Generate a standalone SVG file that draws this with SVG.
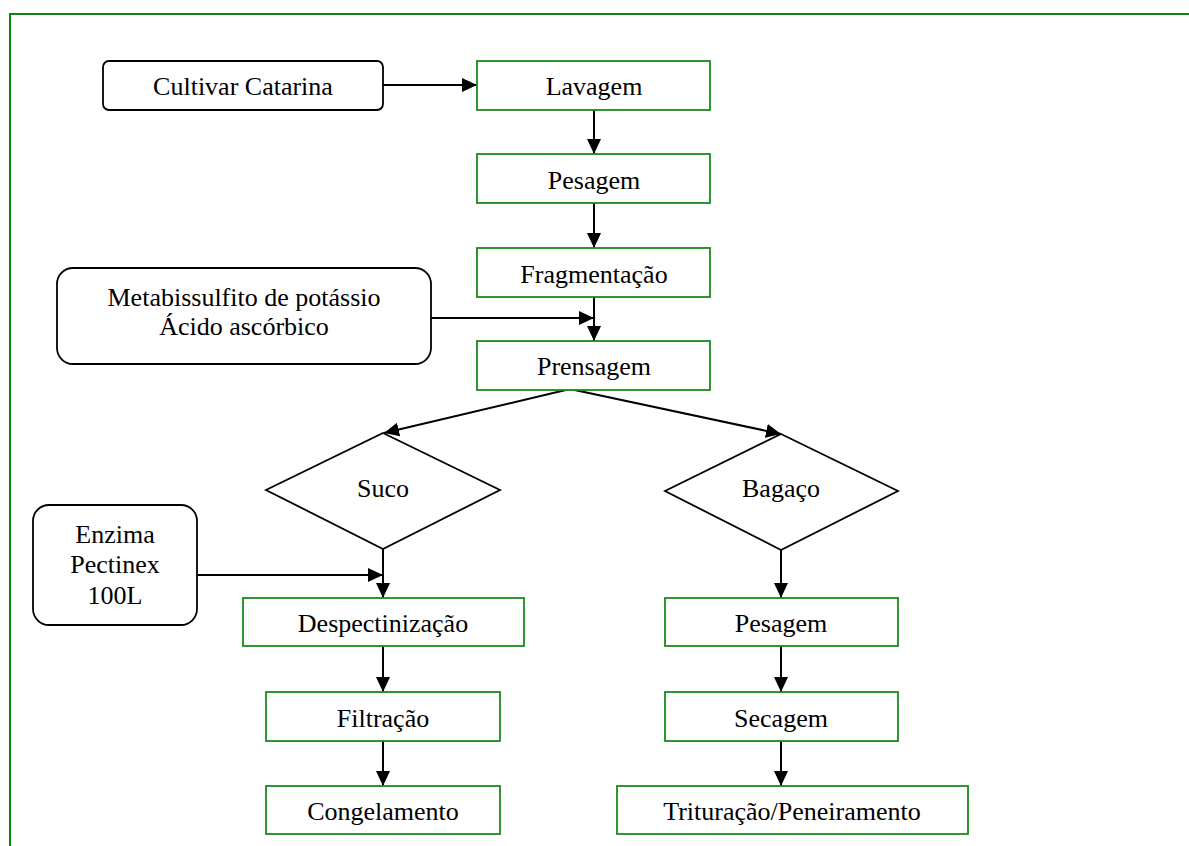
<svg xmlns="http://www.w3.org/2000/svg" width="1189" height="846" viewBox="0 0 1189 846">
<defs>
<marker id="ah" markerWidth="15" markerHeight="15" refX="15" refY="7.5" orient="auto" markerUnits="userSpaceOnUse">
<path d="M0,0.5 L15,7.5 L0,14.5 Z" fill="#000"/>
</marker>
<style>
.g{fill:#fff;stroke:#1a8a1a;stroke-width:1.8}
.b{fill:#fff;stroke:#000;stroke-width:1.8}
.t{font-family:"Liberation Serif","Times New Roman",serif;font-size:26px;fill:#000;text-anchor:middle;dominant-baseline:central}
.c{fill:none;stroke:#000;stroke-width:2;marker-end:url(#ah)}
</style>
</defs>
<rect width="1189" height="846" fill="#fff"/>
<path d="M10,846 V14 H1189" fill="none" stroke="#0a850a" stroke-width="2"/>
<g id="connectors">
<path class="c" d="M383,85 H477"/>
<path class="c" d="M594,110 V154"/>
<path class="c" d="M594,203 V248"/>
<path class="c" d="M594,296 V341"/>
<path class="c" d="M431,318 H594"/>
<path class="c" d="M570,389 L384,433"/>
<path class="c" d="M570,389 L781,434"/>
<path class="c" d="M383,549 V598"/>
<path class="c" d="M197,575 H383"/>
<path class="c" d="M383,646 V692"/>
<path class="c" d="M383,741 V786"/>
<path class="c" d="M781,550 V598"/>
<path class="c" d="M781,646 V692"/>
<path class="c" d="M781,741 V786"/>
</g>
<g id="cultivar"><rect class="b" x="103" y="61" width="280" height="49" rx="6"/><text class="t" x="243" y="86">Cultivar Catarina</text></g>
<g id="lavagem"><rect class="g" x="477" y="61" width="233" height="49"/><text class="t" x="594" y="86">Lavagem</text></g>
<g id="pesagem1"><rect class="g" x="477" y="154" width="233" height="49"/><text class="t" x="594" y="180">Pesagem</text></g>
<g id="fragmentacao"><rect class="g" x="477" y="248" width="233" height="49"/><text class="t" x="594" y="274">Fragmentação</text></g>
<g id="aditivos"><rect class="b" x="57" y="268" width="374" height="96" rx="16"/><text class="t" x="244" y="297">Metabissulfito de potássio</text><text class="t" x="244" y="326">Ácido ascórbico</text></g>
<g id="prensagem"><rect class="g" x="477" y="341" width="233" height="49"/><text class="t" x="594" y="366">Prensagem</text></g>
<g id="suco"><path class="b" d="M383,433 L500,490 L383,549 L266,490 Z"/><text class="t" x="383" y="488">Suco</text></g>
<g id="bagaco"><path class="b" d="M781,434 L898,491 L781,550 L665,491 Z"/><text class="t" x="781" y="488">Bagaço</text></g>
<g id="enzima"><rect class="b" x="33" y="505" width="164" height="120" rx="16"/><text class="t" x="115" y="534">Enzima</text><text class="t" x="115" y="564">Pectinex</text><text class="t" x="115" y="595">100L</text></g>
<g id="despectinizacao"><rect class="g" x="243" y="598" width="281" height="48"/><text class="t" x="383" y="623">Despectinização</text></g>
<g id="filtracao"><rect class="g" x="266" y="692" width="234" height="49"/><text class="t" x="383" y="718">Filtração</text></g>
<g id="congelamento"><rect class="g" x="266" y="786" width="234" height="48"/><text class="t" x="383" y="811">Congelamento</text></g>
<g id="pesagem2"><rect class="g" x="665" y="598" width="233" height="48"/><text class="t" x="781" y="623">Pesagem</text></g>
<g id="secagem"><rect class="g" x="665" y="692" width="233" height="49"/><text class="t" x="781" y="718">Secagem</text></g>
<g id="trituracao"><rect class="g" x="617" y="786" width="351" height="48"/><text class="t" x="792" y="811">Trituração/Peneiramento</text></g>
</svg>
